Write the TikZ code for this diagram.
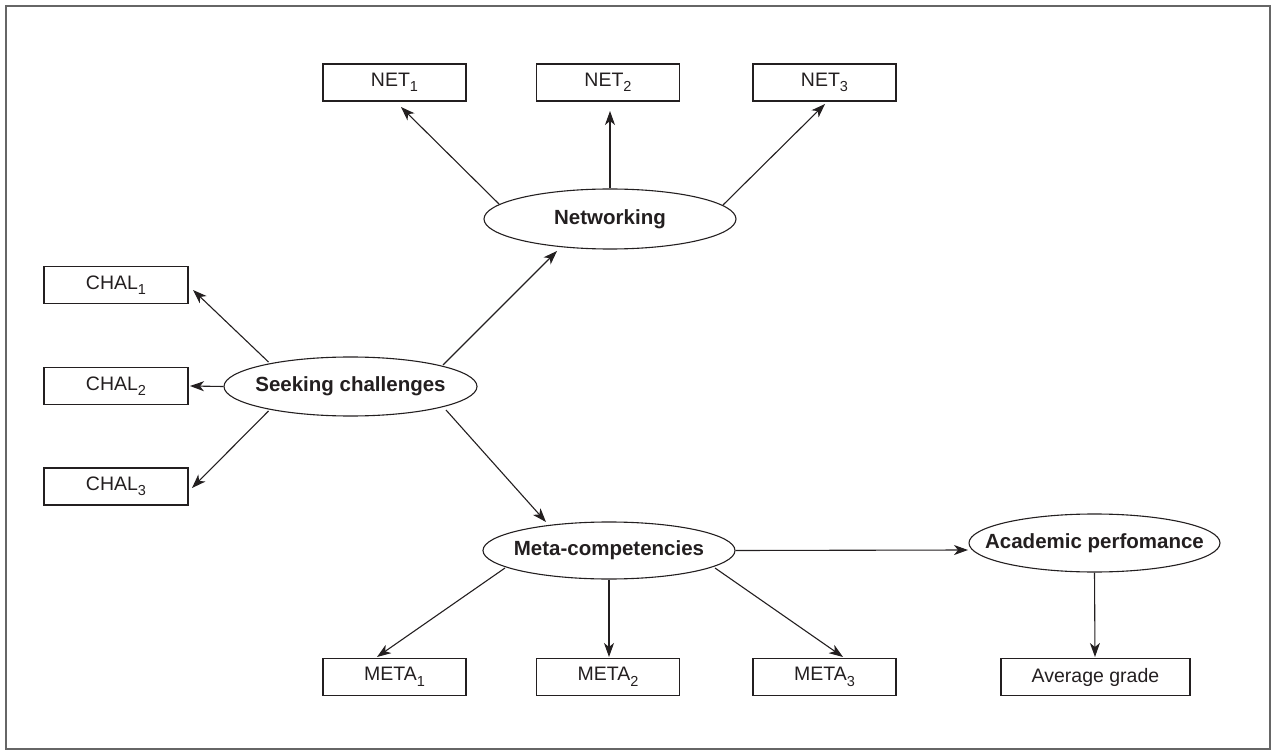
\documentclass[tikz,border=0pt]{standalone}
\usepackage{fontspec}
\setmainfont{Liberation Sans}
\usetikzlibrary{arrows.meta,shapes.geometric,calc}
\newcommand{\subsc}[1]{\raisebox{-5.5pt}{\fontsize{14.5}{14.5}\selectfont #1}}
\definecolor{ink}{HTML}{231F20}
\begin{document}
\begin{tikzpicture}[x=1pt,y=-1pt,
  boxnode/.style={draw=ink,line width=1.1pt,rectangle,minimum width=143,minimum height=37,inner sep=0pt,
    font=\fontsize{19.5}{21}\selectfont,text=ink},
  latent/.style={draw=ink,line width=1.1pt,ellipse,inner xsep=-25pt,inner ysep=0pt,
    font=\fontsize{20.5}{22}\selectfont\bfseries,text=ink},
  arr/.style={draw=ink,line width=1.1pt,-{Stealth[length=14,width=10,inset=4]}}]
\useasboundingbox (0,0) rectangle (1272,751);
\draw[black!60,line width=1.5pt] (6,6) rectangle (1270,749);

% boxes
\node[boxnode] (net1) at (394.5,82.5) {NET\subsc{1}};
\node[boxnode] (net2) at (608,82.5) {NET\subsc{2}};
\node[boxnode] (net3) at (824.5,82.5) {NET\subsc{3}};
\node[boxnode,minimum width=144] (chal1) at (116,285) {CHAL\subsc{1}};
\node[boxnode,minimum width=144] (chal2) at (116,386) {CHAL\subsc{2}};
\node[boxnode,minimum width=144] (chal3) at (116,486.5) {CHAL\subsc{3}};
\node[boxnode] (meta1) at (394.5,677) {META\subsc{1}};
\node[boxnode] (meta2) at (608,677) {META\subsc{2}};
\node[boxnode] (meta3) at (824.5,677) {META\subsc{3}};
\node[boxnode,minimum width=189] (avg) at (1095.5,677) {Average grade};

% latent variables
\node[latent,minimum width=252,minimum height=60] (networking) at (610,219) {Networking};
\node[latent,minimum width=253,minimum height=59] (seek) at (350.5,386.5) {Seeking challenges};
\node[latent,minimum width=252,minimum height=57] (meta) at (609,550.5) {Meta-competencies};
\node[latent,minimum width=251,minimum height=58] (acad) at (1094.5,543) {Academic perfomance};

% connectors
\draw[arr] ($(networking)+(-111,-15)$) -- ($(net1)+(6.5,24.5)$);
\draw[arr] (networking.north) -- ($(net2)+(2,28.5)$);
\draw[arr] ($(networking)+(113,-14)$) -- ($(net3)+(0.5,21.5)$);
\draw[arr] ($(seek)+(92.5,-21.5)$) -- ($(networking)+(-53,32)$);
\draw[arr] ($(seek)+(-82,-24.5)$) -- ($(chal1)+(77,5)$);
\draw[arr] (seek.west) -- ($(chal2)+(74,0)$);
\draw[arr] ($(seek)+(-82,24.5)$) -- ($(chal3)+(76,1.5)$);
\draw[arr] ($(seek)+(95.5,23.5)$) -- ($(meta)+(-63,-28.5)$);
\draw[arr] ($(meta)+(-104,17.5)$) -- ($(meta1)+(-17.5,-20)$);
\draw[arr] (meta.south) -- ($(meta2)+(1,-20)$);
\draw[arr] ($(meta)+(106,17.5)$) -- ($(meta3)+(18.5,-20)$);
\draw[arr] (meta.east) -- ($(acad)+(-126.5,7)$);
\draw[arr] (acad.south) -- ($(avg)+(-0.5,-20)$);
\end{tikzpicture}
\end{document}
